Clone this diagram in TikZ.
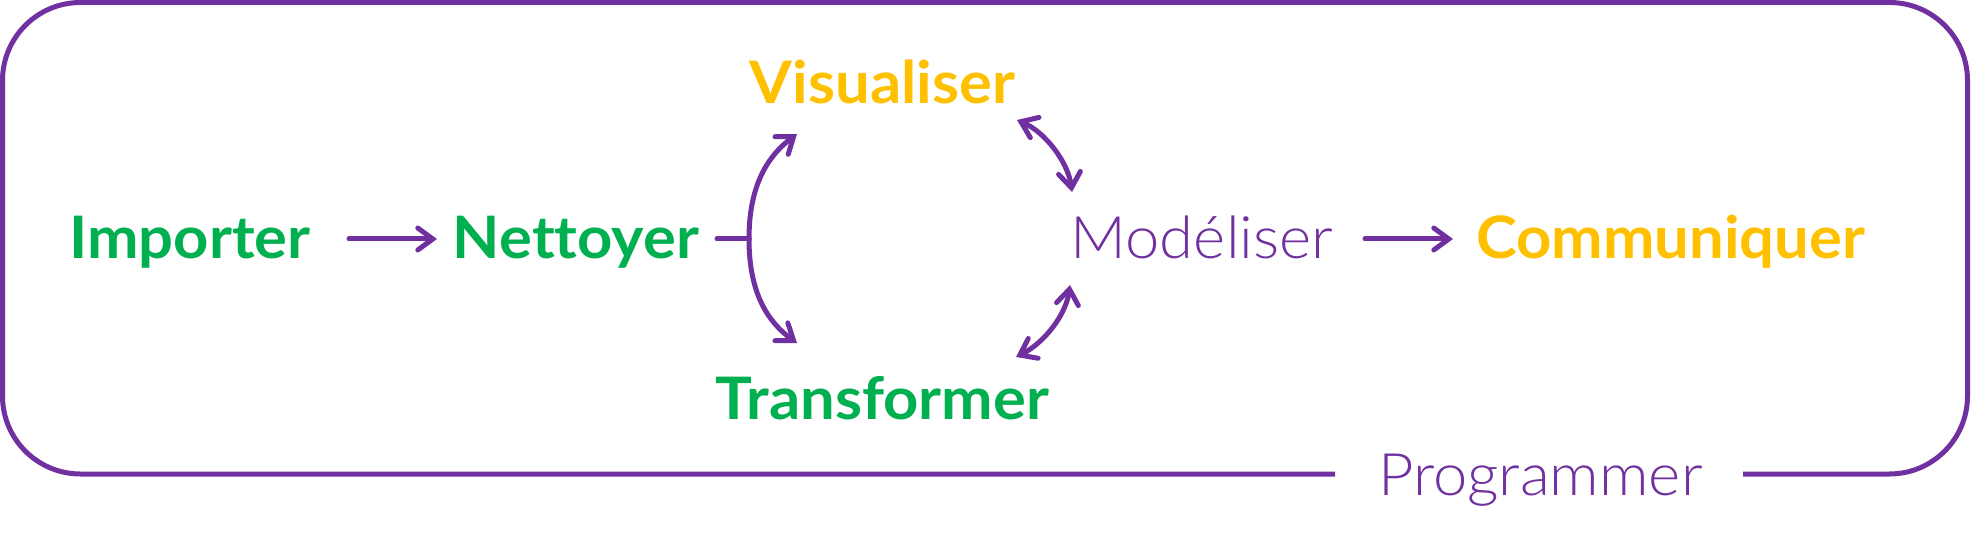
\documentclass[tikz,border=0pt]{standalone}
\usepackage{fontspec}
\setmainfont{Lato}[FakeStretch=1.05, Ligatures=CommonOff]
\newfontfamily\lightfont{Lato Light}[FakeStretch=1.05, Ligatures=CommonOff]
\usetikzlibrary{arrows.meta}
\definecolor{cpurple}{HTML}{7030A0}
\definecolor{cgreen}{HTML}{00B050}
\definecolor{cgold}{HTML}{FFC000}
\begin{document}
\begin{tikzpicture}[x=1pt,y=-1pt,
  lbl/.style={inner sep=0pt, anchor=base, font=\fontsize{58.6}{70}\selectfont\bfseries},
  lightlbl/.style={inner sep=0pt, anchor=base, font=\fontsize{58.6}{70}\selectfont\lightfont, text=cpurple},
  conn/.style={draw=cpurple, line width=5pt, line cap=round},
  tipr/.style={-{Straight Barb[length=15pt,width=22pt,line cap=round]}},
  tipb/.style={{Straight Barb[length=15pt,width=22pt,line cap=round]}-{Straight Barb[length=15pt,width=22pt,line cap=round]}},
  frame/.style={draw=cpurple, line width=5pt, rounded corners=78pt}]
\useasboundingbox (0,0) rectangle (1971,545);
\node[lbl, text=cgreen] (imp) at (190,259) {Importer};
\node[lbl, text=cgreen] (net) at (576,259) {Nettoyer};
\node[lbl, text=cgold] (vis) at (882.5,103.5) {Visualiser};
\node[lbl, text=cgreen] (trans) at (882.5,419) {Transformer};
\node[lightlbl] (mod) at (1202,259) {Modéliser};
\node[lbl, text=cgold] (com) at (1670.5,259) {Communiquer};
\node[lightlbl] (prog) at (1540.5,495) {Programmer};
% frame
\draw[frame] ([shift={(-205.5,-21)}]prog.base) -- (2.5,474) -- (2.5,2.5) -- (1967.5,2.5) -- (1967.5,474) -- ([shift={(202.5,-21)}]prog.base);
% straight arrows
\draw[conn, tipr] ([shift={(159,-20)}]imp.base) -- ([shift={(-139,-20)}]net.base);
\draw[conn, tipr] ([shift={(163,-20)}]mod.base) -- ([shift={(-217.5,-20)}]com.base);
% junction
\coordinate (j) at ([shift={(173,-20)}]net.base);
\draw[conn] ([shift={(141,-20)}]net.base) -- (j);
\draw[conn, tipr] (j) .. controls +(0,-50) and +(-32,24) .. ([shift={(-85.5,30.5)}]vis.base);
\draw[conn, tipr] (j) .. controls +(0,50) and +(-32,-23) .. ([shift={(-85.5,-76)}]trans.base);
% double arrows
\draw[conn, tipb] ([shift={(134.5,16.5)}]vis.base) .. controls +(28,12) and +(-4,-30) .. ([shift={(-130,-67)}]mod.base);
\draw[conn, tipb] ([shift={(-132,26)}]mod.base) .. controls +(-4,30) and +(28,-14) .. ([shift={(133.5,-62)}]trans.base);
\end{tikzpicture}
\end{document}
